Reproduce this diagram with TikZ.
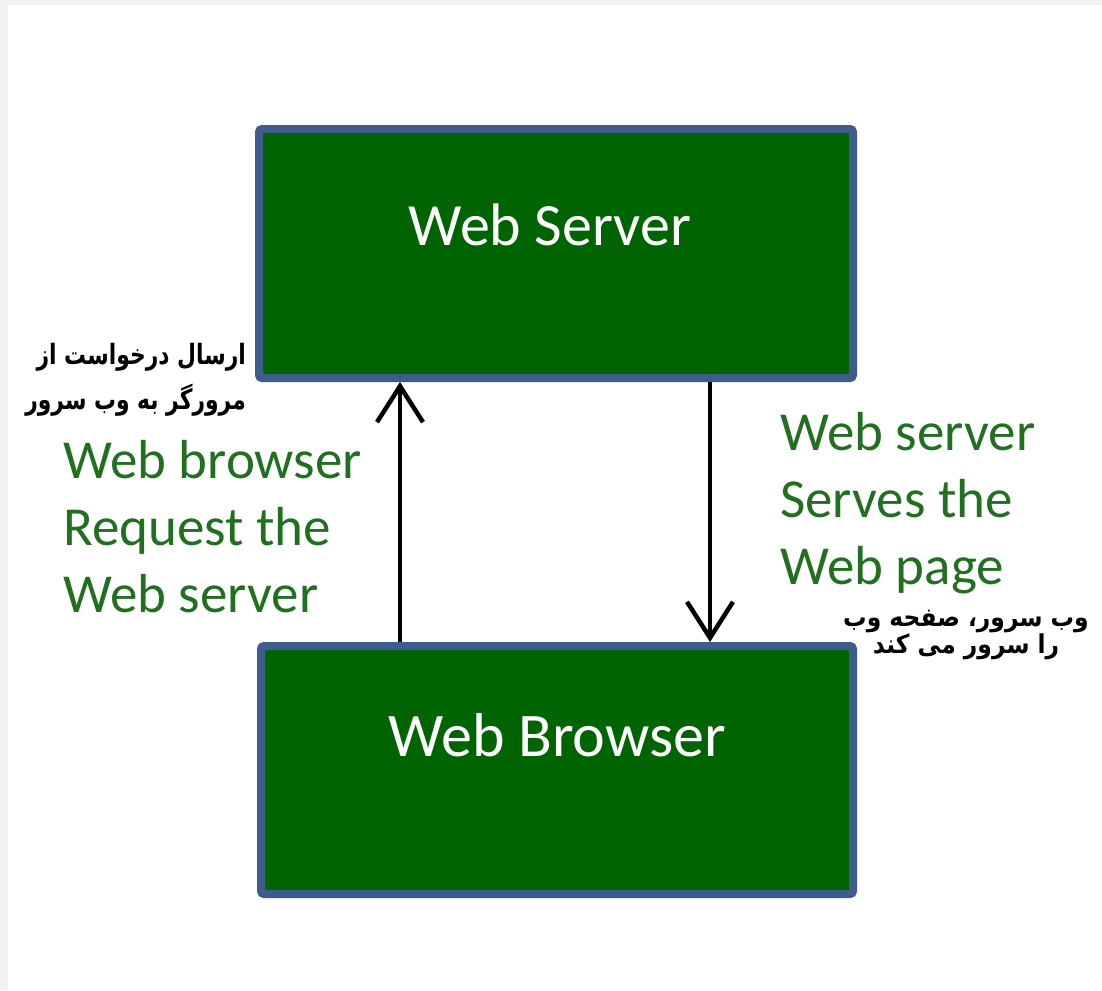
\documentclass[tikz,border=0pt]{standalone}
\usepackage{fontspec}
\setmainfont{Carlito}
\newfontfamily\arabicfont[Script=Arabic]{DejaVu Sans}
\TeXXeTstate=1
\usetikzlibrary{arrows.meta}
\definecolor{boxgreen}{RGB}{0,100,0}
\definecolor{boxblue}{RGB}{62,92,140}
\definecolor{labelgreen}{RGB}{32,112,32}
\definecolor{framegray}{RGB}{242,242,242}
\tikzset{
    webbox/.style={draw=boxblue, fill=boxgreen, line width=8pt, rounded corners=3pt},
    boxtext/.style={text=white, inner sep=0pt, font=\fontsize{60}{70}\selectfont},
    flow/.style={line width=4.5pt, -{Straight Barb[length=36pt, width=46pt]}},
    greenlabel/.style={text=labelgreen, align=left, anchor=west, inner sep=0pt,
        font=\fontsize{55}{67}\selectfont},
    farsilabel/.style={inner sep=0pt}
}
\begin{document}
\begin{tikzpicture}[x=1pt, y=-1pt]
            \fill[framegray] (0,0) rectangle (1102,990);
            \fill[white] (8,5) rectangle (1102,990);
            \useasboundingbox (0,0) rectangle (1102,990);
            \node[webbox, minimum width=594pt, minimum height=249pt] (server) at (556,253.5) {};
            \node[webbox, minimum width=592pt, minimum height=248pt] (browser) at (557,770) {};
            \node[boxtext] (servertext) at (550,225) {Web Server};
            \node[boxtext, font=\fontsize{62}{70}\selectfont] (browsertext) at (557,735) {Web Browser};
            \coordinate (up) at (400,0);
            \coordinate (down) at (710,0);
            \draw[flow] (up |- browser.north) -- (up |- server.south);
            \draw[flow] (down |- server.south) -- (down |- browser.north);
            \node[greenlabel] (request) at (63,527) {Web browser\\Request the\\Web server};
            \node[greenlabel] (serves) at (780,503) {Web server\\Serves the\\Web page};
            \node[farsilabel, align=right, anchor=east, font=\arabicfont\bfseries\fontsize{28}{45}\selectfont] (requestfa) at (246,380)
                {\scalebox{0.78}[1]{\beginR ارسال درخواست از\endR}\\\scalebox{0.78}[1]{\beginR مرورگر به وب سرور\endR}};
            \node[farsilabel, align=center, font=\arabicfont\bfseries\fontsize{26}{25}\selectfont] (servesfa) at (966,635)
                {\scalebox{0.9}[1]{\beginR وب سرور، صفحه وب\endR}\\\scalebox{0.9}[1]{\beginR را سرور می کند\endR}};
        \end{tikzpicture}
\end{document}
